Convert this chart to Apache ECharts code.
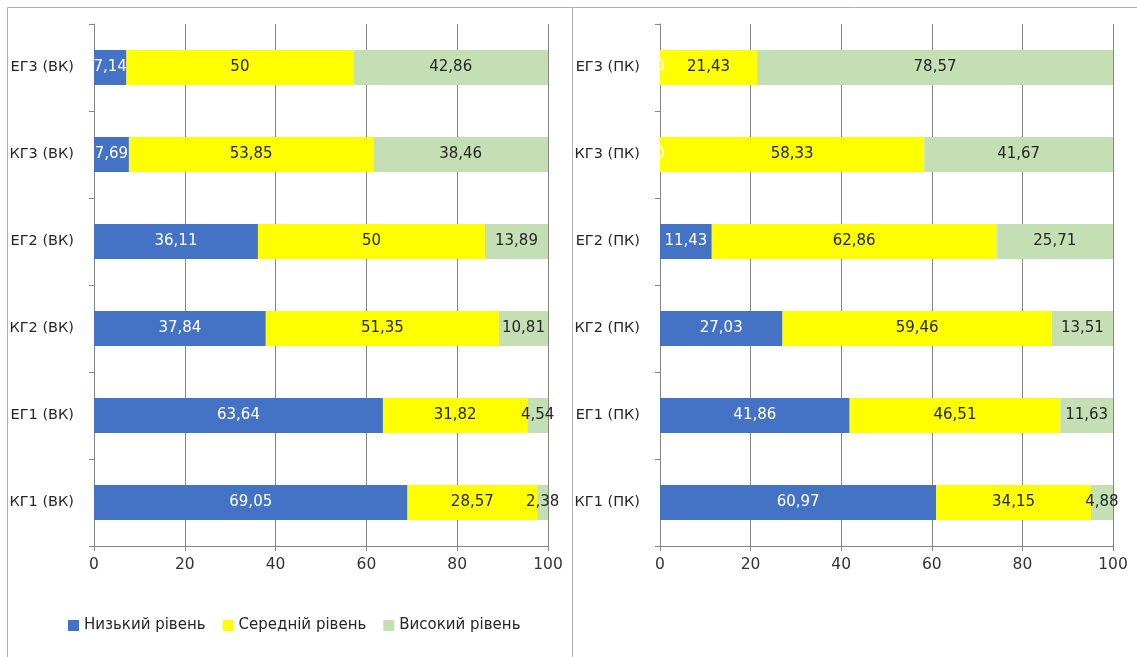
<!DOCTYPE html>
<html><head><meta charset="utf-8">
<script src="https://cdn.jsdelivr.net/npm/echarts@6/dist/echarts.min.js"></script>
<style>html,body{margin:0;padding:0;background:#fff}#c{width:1137px;height:657px}</style>
</head><body><div id="c"></div>
<script>
const catsVK = ['КГ1 (ВК)','ЕГ1 (ВК)','КГ2 (ВК)','ЕГ2 (ВК)','КГ3 (ВК)','ЕГ3 (ВК)'];
const catsPK = ['КГ1 (ПК)','ЕГ1 (ПК)','КГ2 (ПК)','ЕГ2 (ПК)','КГ3 (ПК)','ЕГ3 (ПК)'];
const lowVK  = [69.05, 63.64, 37.84, 36.11, 7.69, 7.14];
const midVK  = [28.57, 31.82, 51.35, 50, 53.85, 50];
const highVK = [2.38, 4.54, 10.81, 13.89, 38.46, 42.86];
const lowPK  = [60.97, 41.86, 27.03, 11.43, 0, 0];
const midPK  = [34.15, 46.51, 59.46, 62.86, 58.33, 21.43];
const highPK = [4.88, 11.63, 13.51, 25.71, 41.67, 78.57];
const seriesNames = ['Низький рівень','Середній рівень','Високий рівень'];
const xTicks = [0,20,40,60,80,100];

const FONT = 'DejaVu Sans';
const colors = ['#4472C4','#FFFF00','#C4DFB3'];
const labelColors = ['#ffffff','#262626','#262626'];
const fmt = p => String(p.value).replace('.', ',');

function xAxis(gi){
  return {type:'value', gridIndex:gi, min:xTicks[0], max:xTicks[xTicks.length-1], interval:20,
    axisLine:{show:true, lineStyle:{color:'#868686'}},
    axisTick:{show:true, length:5, lineStyle:{color:'#868686'}},
    splitLine:{show:true, lineStyle:{color:'#868686', width:1}},
    axisLabel:{fontFamily:FONT, fontSize:15.5, color:'#333', margin:11}};
}
function yAxis(gi, cats){
  return {type:'category', gridIndex:gi, data:cats,
    axisLine:{show:true, lineStyle:{color:'#868686'}},
    axisTick:{show:true, length:5, lineStyle:{color:'#868686'}},
    axisLabel:{fontFamily:FONT, fontSize:14.5, color:'#262626', margin:20}};
}
function mk(name, data, gi, idx){
  return {name, type:'bar', stack:'s'+gi, xAxisIndex:gi, yAxisIndex:gi, data, barWidth:35,
    itemStyle:{color:colors[idx]},
    label:{show:true, position:'inside', formatter:fmt, fontFamily:FONT, fontSize:15, color:labelColors[idx]}};
}
const chart = echarts.init(document.getElementById('c'));
chart.setOption({
  animation:false,
  graphic:[
    {type:'rect', shape:{x:7.5,y:7.5,width:565,height:660}, style:{fill:null, stroke:'#b0b0b0', lineWidth:1}, silent:true},
    {type:'rect', shape:{x:572.5,y:7.5,width:600,height:660}, style:{fill:null, stroke:'#b0b0b0', lineWidth:1}, silent:true}
  ],
  legend:{data:seriesNames, left:68, top:618, padding:0, itemWidth:11, itemHeight:11, itemGap:17, icon:'rect',
    textStyle:{fontFamily:FONT, fontSize:15, color:'#262626'}},
  grid:[
    {left:94, width:454, top:24, height:522},
    {left:660, width:453, top:24, height:522}
  ],
  xAxis:[xAxis(0), xAxis(1)],
  yAxis:[yAxis(0, catsVK), yAxis(1, catsPK)],
  series:[
    mk(seriesNames[0], lowVK, 0, 0), mk(seriesNames[1], midVK, 0, 1), mk(seriesNames[2], highVK, 0, 2),
    mk(seriesNames[0], lowPK, 1, 0), mk(seriesNames[1], midPK, 1, 1), mk(seriesNames[2], highPK, 1, 2)
  ]
});
</script></body></html>
